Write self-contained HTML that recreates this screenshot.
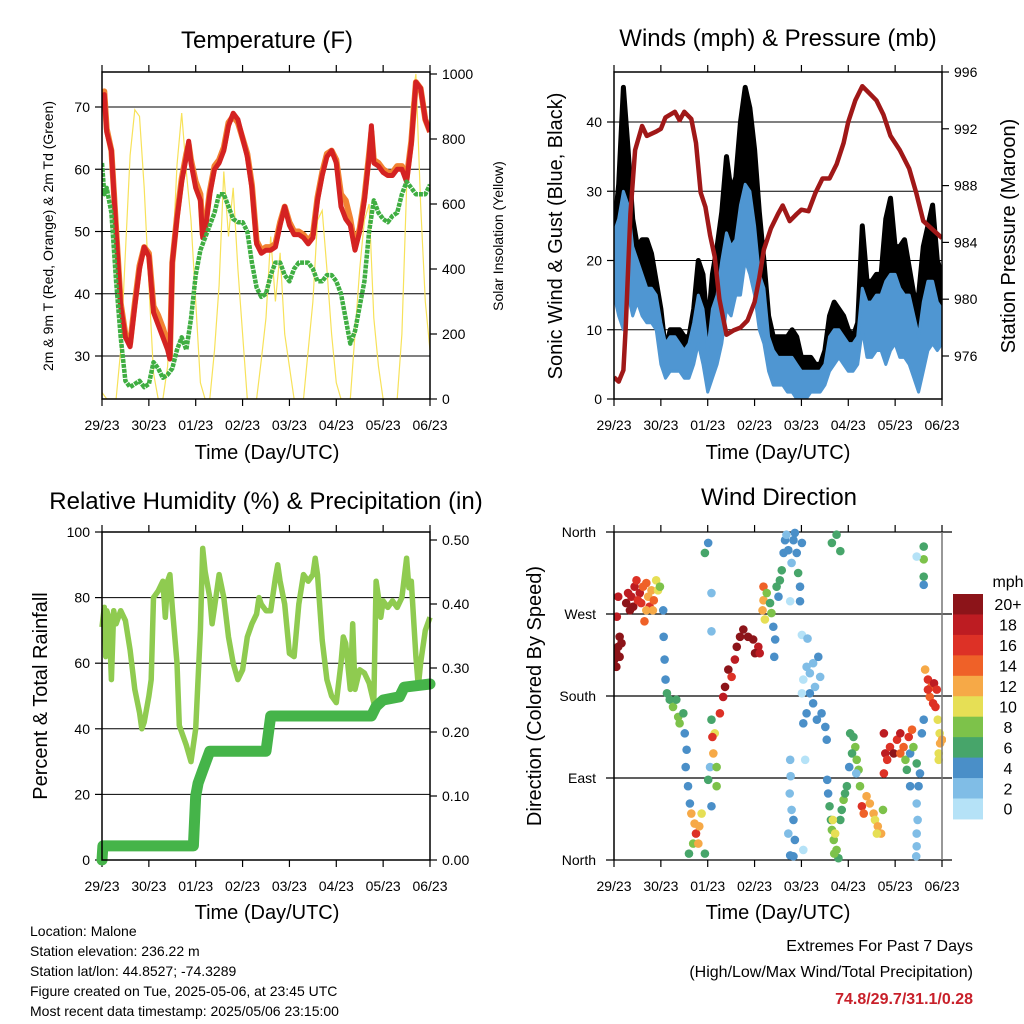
<!DOCTYPE html>
<html><head><meta charset="utf-8"><style>
html,body{margin:0;padding:0;background:#fff}
svg{display:block;font-family:"Liberation Sans",Arial,sans-serif}
</style></head><body>
<svg id="c" width="1024" height="1024" viewBox="0 0 1024 1024" xmlns="http://www.w3.org/2000/svg"></svg>
<script>
// ---------- DATA ----------
const dayTicks = ["29/23","30/23","01/23","02/23","03/23","04/23","05/23","06/23"];
const step10 = [0,0.1,0.2,0.3,0.4,0.5,0.6,0.7,0.8,0.9,1.0,1.1,1.2,1.3,1.4,1.5,1.6,1.7,1.8,1.9,2.0,2.1,2.2,2.3,2.4,2.5,2.6,2.7,2.8,2.9,3.0,3.1,3.2,3.3,3.4,3.5,3.6,3.7,3.8,3.9,4.0,4.1,4.2,4.3,4.4,4.5,4.6,4.7,4.8,4.9,5.0,5.1,5.2,5.3,5.4,5.5,5.6,5.7,5.8,5.9,6.0,6.1,6.2,6.3,6.4,6.5,6.6,6.7,6.8,6.9,7.0];
const tempDays = [0,0.05,0.1,0.2,0.3,0.4,0.5,0.6,0.7,0.8,0.9,1.0,1.1,1.2,1.3,1.4,1.45,1.5,1.6,1.7,1.8,1.85,1.9,2.0,2.1,2.15,2.2,2.3,2.4,2.5,2.6,2.7,2.8,2.9,3.0,3.1,3.2,3.3,3.4,3.5,3.6,3.7,3.8,3.9,4.0,4.1,4.2,4.3,4.4,4.5,4.6,4.7,4.8,4.9,5.0,5.1,5.2,5.3,5.4,5.5,5.6,5.7,5.75,5.8,5.9,6.0,6.1,6.2,6.3,6.4,6.5,6.6,6.7,6.8,6.9,7.0];
const temp2m = [71,72,66,63,50,38,33,31.5,38,44,47.5,46,37,35,33,31,29.5,45,52,58,62,64.5,61,57,55,49,50,56,60,61,63,67,69,68,65,62,57,48,46.5,47,47,47.5,51,54,51,49.5,49.5,49,48,49,55,59,62,63,61,54,52,51,47,50,55,62,67,61,60.5,59.5,59,59,60,60,58,64,74,73,68,66];
const temp9m = [71,72.5,66.5,63,50.5,38.5,33.5,32,38.5,44.5,47.5,46.5,38,36.5,34.5,32,30,45,52.5,58.5,62.5,64,61.5,58,56,49.5,50.5,56.5,60.5,61.5,63.5,67.5,68.5,67.5,65,62.5,57.5,48.5,47,47.5,47.5,48,51.5,54,51.5,50,50,49.5,48.5,49.5,55.5,59.5,62.5,63,61.5,56,55,52,47.5,50.5,55.5,62.5,66,61.5,61,60,59.5,59.5,60.5,60.5,58.5,64.5,74,73,68,66];
const dewDays = [0,0.05,0.1,0.2,0.3,0.4,0.5,0.6,0.7,0.8,0.9,1.0,1.1,1.2,1.3,1.4,1.5,1.6,1.7,1.8,1.9,2.0,2.1,2.2,2.3,2.4,2.5,2.6,2.7,2.8,2.9,3.0,3.1,3.2,3.3,3.4,3.5,3.6,3.7,3.8,3.9,4.0,4.1,4.2,4.3,4.4,4.5,4.6,4.7,4.8,4.9,5.0,5.1,5.2,5.3,5.4,5.5,5.6,5.7,5.8,5.9,6.0,6.1,6.2,6.3,6.4,6.5,6.6,6.7,6.8,6.9,7.0];
const dew2m = [61,56,57,53,42,33,26,25,25.5,26,25,25.5,29,28,26.5,27,28,31,33,31,36,43,47,49,51,53,56,56,54,52,51.5,51.5,50,45,41,39.5,40,43,45,45,43,42,44,45,45,45,44,42,42,43,43,42,40,36,32,34,38,42,50,55,53,52,51.5,52.5,53,56,58,57,56,56,56,57.5];
const solar = [20,0,0,0,150,450,750,890,870,650,350,80,0,0,100,420,720,880,700,550,300,50,0,0,150,350,700,500,650,400,200,0,0,0,120,250,500,300,450,200,100,0,0,0,150,300,550,580,400,200,50,0,0,0,200,400,550,600,250,100,0,0,0,0,200,650,900,1000,600,300,150];
const pressDays = [0,0.1,0.2,0.25,0.35,0.45,0.6,0.7,0.9,1.0,1.1,1.3,1.4,1.5,1.65,1.75,1.85,1.95,2.05,2.15,2.25,2.4,2.55,2.7,2.85,3.0,3.1,3.2,3.35,3.5,3.6,3.75,3.9,4.0,4.15,4.3,4.45,4.6,4.75,4.9,5.0,5.15,5.3,5.45,5.6,5.75,5.9,6.1,6.3,6.45,6.6,7.0];
const pressure = [974.5,974.2,975,978,986,990.5,992.2,991.5,991.8,992,992.8,993.2,992.6,993.2,992.7,991,987.5,986.5,984.5,983,980,977.5,977.8,978,978.5,979.8,981.5,983.5,985,986,986.6,985.5,986,986.3,986.2,987.5,988.5,988.5,989.5,991,992.5,994,995,994.5,994,993,991.5,990.5,989.2,987.5,985.5,984.3];
const windLow = [15,12,10,15,12,14,12,11,11,10,5,3,4,4,4,3,3,5,8,5,1,3,5,8,13,12,15,15,20,18,15,10,8,4,2,2,2,1,1,0,0,0,1,1,1,2,4,5,6,5,4,4,5,10,6,6,7,7,5,7,8,6,6,5,3,1,4,7,8,7,8];
const windHigh = [24,26,30,28,22,20,18,16,16,15,11,8,9,9,8,7,8,11,15,13,7,13,15,20,24,22,23,28,31,30,25,18,16,9,7,6,6,6,6,5,4,4,4,4,4,5,9,10,10,9,8,8,9,16,14,14,15,15,17,18,18,16,15,15,12,9,14,17,17,14,13];
const gust = [24,31,45,36,26,22,23,23,21,17,13,7,10,10,10,9,9,13,20,18,10,18,22,27,35,30,32,40,45,42,36,27,20,12,9,9,9,9,10,9,6,6,6,5,5,7,12,14,13,12,10,9,11,25,17,17,18,18,26,29,22,22,23,19,15,15,22,25,28,20,18];
const rhDays = [0,0.05,0.08,0.1,0.15,0.2,0.25,0.3,0.4,0.5,0.6,0.7,0.8,0.85,0.9,1.0,1.05,1.1,1.2,1.3,1.35,1.4,1.45,1.5,1.6,1.65,1.8,1.9,2.0,2.1,2.15,2.2,2.3,2.35,2.4,2.5,2.6,2.7,2.8,2.9,3.0,3.1,3.2,3.3,3.35,3.4,3.5,3.6,3.7,3.75,3.8,3.9,4.0,4.1,4.2,4.3,4.4,4.5,4.55,4.6,4.7,4.8,4.9,5.0,5.1,5.15,5.2,5.3,5.35,5.4,5.5,5.6,5.7,5.8,5.85,5.9,5.95,6.0,6.1,6.2,6.3,6.4,6.5,6.55,6.6,6.7,6.75,6.8,6.9,7.0];
const rh = [71,77,62,76,74,55,76,72,76,73,64,52,45,40,42,50,55,80,82,85,74,85,87,77,60,41,35,30,40,70,95,88,80,72,77,87,80,68,60,55,58,68,72,75,80,78,76,76,86,90,85,78,63,62,78,87,85,87,92,87,67,55,50,48,60,68,66,52,72,52,58,57,54,48,85,80,74,79,77,79,77,80,92,83,85,62,53,60,70,74];
const precipDays = [0,0.02,1.95,2.0,2.05,2.15,2.3,3.5,3.6,5.75,5.85,6.0,6.35,6.45,7.0];
const precip = [0,0.022,0.022,0.1,0.12,0.14,0.17,0.17,0.225,0.225,0.24,0.25,0.255,0.27,0.275];
const dirDay = [0.01,0.05,0.09,0.12,0.16,0.05,0.12,0.01,0.09,0.06,
0.26,0.34,0.37,0.44,0.48,0.55,0.58,0.62,0.69,0.73,0.76,0.8,0.85,0.9,0.94,0.98,0.65,0.3,0.41,0.51,0.83,0.69,
1.05,1.06,1.08,1.1,1.13,1.19,1.26,1.33,1.37,1.4,1.48,1.51,1.55,1.53,1.58,1.62,1.65,1.72,1.75,1.82,1.87,1.69,1.6,1.8,1.94,2.08,2.01,1.94,2.08,2.08,
2.01,2.05,2.12,2.15,2.08,2.19,2.19,2.1,
2.26,2.33,2.37,2.44,2.51,2.58,2.62,2.69,2.76,2.86,2.97,3.08,3.01,3.11,
3.19,3.19,3.17,3.22,3.26,3.33,3.36,3.4,3.44,3.42,3.47,3.51,
3.58,3.62,3.65,3.68,3.72,3.79,3.83,3.86,3.9,3.93,3.97,4.01,3.76,3.97,3.54,
3.76,3.77,3.75,3.79,3.83,3.72,3.86,3.76,3.83,4.04,4.08,4.01,4.13,
4.04,4.11,4.18,4.25,4.36,4.4,4.18,4.25,4.11,4.04,4.33,4.43,4.51,4.54,4.29,4.01,
4.55,4.57,4.6,4.63,4.65,4.69,4.72,4.75,4.79,4.83,4.86,4.9,4.93,4.97,4.7,4.67,
5.04,5.11,5.15,5.08,5.18,5.22,5.02,5.17,5.25,
5.29,5.33,5.39,5.46,5.54,5.57,5.63,5.7,5.74,5.61,
5.76,5.79,5.83,5.89,5.97,6.04,6.11,6.18,6.29,6.36,5.76,6.11,
6.22,6.25,6.32,6.39,6.46,6.53,6.57,6.32,6.5,6.61,
6.46,6.48,6.46,6.46,6.45,
6.64,6.7,6.77,6.83,6.74,6.81,6.86,6.89,6.7,
6.91,6.95,6.96,6.93,7.0,6.93,
6.61,6.61,6.61,6.61,6.46,4.65,4.75,4.83];
const dirDeg = [220,227,234,245,238,212,223,225,289,267,
282,274,289,300,307,293,282,300,304,289,278,296,285,307,296,300,262,293,278,285,274,274,
274,245,220,198,183,176,168,176,157,150,161,139,121,102,81,62,51,40,29,37,51,18,7,18,7,59,348,337,293,251,
88,102,117,139,154,102,81,135,
161,179,190,209,201,220,234,245,253,245,242,234,227,227,
300,285,274,264,293,282,271,256,242,223,300,289,
318,337,351,357,340,326,351,359,337,315,300,348,284,284,307,
110,92,73,55,44,29,22,5,4,11,110,247,243,
198,212,205,216,223,201,183,172,161,150,154,161,146,132,190,183,
88,73,59,44,33,22,29,11,2,44,55,66,73,81,7,44,
139,135,124,117,110,99,102,95,81,
59,51,70,62,51,44,37,29,55,29,
139,117,110,124,117,132,139,124,135,143,95,117,
110,99,117,124,106,95,139,81,81,154,
62,44,29,15,4,
209,198,190,194,179,172,168,187,187,
154,139,128,117,132,110,
344,330,311,302,333,348,357,339];
const dirSpd = [20,20,20,20,20,20,20,20,18,18,
20,20,18,18,16,18,16,14,14,12,16,12,14,10,10,8,14,18,20,16,12,12,
4,4,4,4,6,6,8,6,8,8,6,4,4,4,4,4,12,12,16,12,10,8,6,12,6,4,4,6,2,2,
6,2,12,10,6,8,8,16,
16,18,20,20,16,18,20,20,20,20,20,18,20,18,
14,12,12,10,8,6,8,4,4,4,6,4,
6,4,4,2,4,2,4,4,4,6,4,4,1,4,6,
2,2,2,2,4,2,4,4,4,1,1,1,2,
1,2,2,2,4,2,4,4,4,4,4,4,4,4,2,1,
4,4,6,6,8,8,10,8,6,6,6,8,6,6,8,10,
6,6,8,6,8,8,4,2,8,
16,14,12,12,12,10,12,12,8,10,
18,18,16,16,20,16,18,14,16,14,16,14,
8,6,4,8,6,4,4,4,4,4,
2,2,2,2,2,
12,16,14,18,14,16,16,16,16,
10,10,12,10,12,10,
6,8,6,4,1,6,6,6];
const cbLabels = ["20+","18","16","14","12","10","8","6","4","2","0"];
const cbColors = ["#8c1419","#bd1c22","#dd3126","#ef6128","#f6a947","#e6df55","#7dc24a","#47a56a","#4a8fc8","#80bde6","#b5e2f7"];

// ---------- HELPERS ----------
const NS="http://www.w3.org/2000/svg";
const svg=document.getElementById('c');
function mk(tag,attrs,parent){const e=document.createElementNS(NS,tag);for(const k in attrs)e.setAttribute(k,attrs[k]);(parent||svg).appendChild(e);return e;}
function txt(s,x,y,size,anchor,parent,extra){const e=mk('text',Object.assign({x:x,y:y,'font-size':size,'text-anchor':anchor||'middle',fill:'#000'},extra||{}),parent);e.textContent=s;return e;}
function lin(d0,d1,p0,p1){return v=>p0+(v-d0)/(d1-d0)*(p1-p0);}
function pathOf(xs,ys,fx,fy){return xs.map((t,i)=>(i?'L':'M')+fx(t).toFixed(1)+','+fy(ys[i]).toFixed(1)).join('');}
function bandOf(xs,lo,hi,fx,fy){let d=xs.map((t,i)=>(i?'L':'M')+fx(t).toFixed(1)+','+fy(hi[i]).toFixed(1)).join('');for(let i=xs.length-1;i>=0;i--)d+='L'+fx(xs[i]).toFixed(1)+','+fy(lo[i]).toFixed(1);return d+'Z';}

function frame(g,L,R,T,B,name){
  const r=mk('rect',{x:L,y:T,width:R-L,height:B-T,fill:'none',stroke:'#000','stroke-width':1.5},g);
  
}
function xAxis(g,L,R,T,B,ty){
  const fx=lin(0,7,L,R);
  dayTicks.forEach((lab,i)=>{
    const x=fx(i);
    mk('line',{x1:x,y1:B,x2:x,y2:B+7,stroke:'#000','stroke-width':1.2},g);
    mk('line',{x1:x,y1:T,x2:x,y2:T-7,stroke:'#000','stroke-width':1.2},g);
    const t=txt(lab,x,ty,14,'middle',g);
    
  });
  return fx;
}
function yTicksLeft(g,L,R,vals,fy,labels,grid){
  vals.forEach((v,i)=>{
    const y=fy(v);
    mk('line',{x1:L-7,y1:y,x2:L,y2:y,stroke:'#000','stroke-width':1.2},g);
    if(grid&&grid(v))mk('line',{x1:L,y1:y,x2:R,y2:y,stroke:'#000','stroke-width':1},g);
    const t=txt(labels[i],L-12,y+5,14,'end',g);
    
  });
}
function yTicksRight(g,R,vals,fy,labels){
  vals.forEach((v,i)=>{
    const y=fy(v);
    mk('line',{x1:R,y1:y,x2:R+7,y2:y,stroke:'#000','stroke-width':1.2},g);
    const t=txt(labels[i],R+12,y+5,14,'start',g);
    
  });
}
function rotText(s,x,y,size,g,name){const t=txt(s,x,y,size,'middle',g,{transform:'rotate(-90 '+x+' '+y+')'});return t;}

// ---------- PANEL 1: TEMPERATURE ----------
(function(){
  const g=mk('g',{});
  const L=102,R=430,T=72,B=399;
  const fy=lin(30,70,356,107), fs=lin(0,1000,399,74);
  const fx=xAxis(g,L,R,T,B,430);
  yTicksLeft(g,L,R,[30,40,50,60,70],fy,["30","40","50","60","70"],v=>true);
  yTicksRight(g,R,[0,200,400,600,800,1000],fs,["0","200","400","600","800","1000"]);
  const cp=mk('clipPath',{id:'cp1'},g);mk('rect',{x:L,y:T,width:R-L,height:B-T},cp);
  const pg=mk('g',{'clip-path':'url(#cp1)'},g);
  const s=mk('path',{d:pathOf(step10,solar,fx,fs),fill:'none',stroke:'#f7e25a','stroke-width':1.2},pg);
  
  const o=mk('path',{d:pathOf(tempDays,temp9m,fx,fy),fill:'none',stroke:'#f28232','stroke-width':6,'stroke-linejoin':'round'},pg);
  
  const r=mk('path',{d:pathOf(tempDays,temp2m,fx,fy),fill:'none',stroke:'#d42222','stroke-width':5,'stroke-linejoin':'round'},pg);
  
  const d=mk('path',{d:pathOf(dewDays,dew2m,fx,fy),fill:'none',stroke:'#3fae42','stroke-width':4.5,'stroke-dasharray':'4 1','stroke-linejoin':'round'},pg);
  
  frame(g,L,R,T,B,'temperature');
  const t=txt("Temperature (F)",267,48,24,'middle',g);
  const xt=txt("Time (Day/UTC)",267,459,20,'middle',g);
  rotText("2m & 9m T (Red, Orange) & 2m Td (Green)",53,236,14,g,'y-axis-title');
  rotText("Solar Insolation (Yellow)",503,236,14,g,'y2-axis-title');
})();

// ---------- PANEL 2: WINDS ----------
(function(){
  const g=mk('g',{});
  const L=614,R=942,T=72,B=399;
  const fy=lin(0,40,399,122), fp=lin(976,996,356,72);
  const fx=xAxis(g,L,R,T,B,430);
  yTicksLeft(g,L,R,[0,10,20,30,40],fy,["0","10","20","30","40"],v=>v>0);
  yTicksRight(g,R,[976,980,984,988,992,996],fp,["976","980","984","988","992","996"]);
  const cp=mk('clipPath',{id:'cp2'},g);mk('rect',{x:L,y:T,width:R-L,height:B-T},cp);
  const pg=mk('g',{'clip-path':'url(#cp2)'},g);
  const gb=mk('path',{d:bandOf(step10,windHigh,gust,fx,fy),fill:'#000',stroke:'#000','stroke-width':5,'stroke-linejoin':'round'},pg);
  
  const bb=mk('path',{d:bandOf(step10,windLow,windHigh,fx,fy),fill:'#4f96d2',stroke:'#4f96d2','stroke-width':3,'stroke-linejoin':'round'},pg);
  
  const p=mk('path',{d:pathOf(pressDays,pressure,fx,fp),fill:'none',stroke:'#a01818','stroke-width':4.5,'stroke-linejoin':'round'},pg);
  
  frame(g,L,R,T,B,'winds');
  const t=txt("Winds (mph) & Pressure (mb)",778,46,24,'middle',g);
  const xt=txt("Time (Day/UTC)",778,459,20,'middle',g);
  rotText("Sonic Wind & Gust (Blue, Black)",562,236,20,g,'y-axis-title');
  rotText("Station Pressure (Maroon)",1015,236,20,g,'y2-axis-title');
})();

// ---------- PANEL 3: RH & PRECIP ----------
(function(){
  const g=mk('g',{});
  const L=102,R=430,T=532,B=860;
  const fy=lin(0,100,860,532), fr=lin(0,0.5,860,540);
  const fx=xAxis(g,L,R,T,B,891);
  yTicksLeft(g,L,R,[0,20,40,60,80,100],fy,["0","20","40","60","80","100"],v=>v>0&&v<100);
  yTicksRight(g,R,[0,0.1,0.2,0.3,0.4,0.5],fr,["0.00","0.10","0.20","0.30","0.40","0.50"]);
  const cp=mk('clipPath',{id:'cp3'},g);mk('rect',{x:L-8,y:T,width:R-L+16,height:B-T+8},cp);
  const pg=mk('g',{'clip-path':'url(#cp3)'},g);
  const h=mk('path',{d:pathOf(rhDays,rh,fx,fy),fill:'none',stroke:'#8fcb50','stroke-width':5.5,'stroke-linejoin':'round'},pg);
  
  const pr=mk('path',{d:pathOf(precipDays,precip,fx,fr),fill:'none',stroke:'#45b449','stroke-width':11,'stroke-linejoin':'round','stroke-linecap':'round'},pg);
  
  frame(g,L,R,T,B,'humidity');
  const t=txt("Relative Humidity (%) & Precipitation (in)",266,509,24,'middle',g);
  const xt=txt("Time (Day/UTC)",267,919,20,'middle',g);
  rotText("Percent & Total Rainfall",47,696,20,g,'y-axis-title');
})();

// ---------- PANEL 4: WIND DIRECTION ----------
(function(){
  const g=mk('g',{});
  const L=614,R=942,T=532,B=860;
  const fy=lin(0,360,860,532);
  const fx=xAxis(g,L,R,T,B,891);
  const dirLabs=["North","East","South","West","North"];
  [0,90,180,270,360].forEach((v,i)=>{
    const y=fy(v);
    mk('line',{x1:L-8,y1:y,x2:R+10,y2:y,stroke:'#000','stroke-width':1.2},g);
    const t=txt(dirLabs[i],596,y+5,14,'end',g);
  });
  const cp=mk('clipPath',{id:'cp4'},g);mk('rect',{x:L,y:T-4,width:R-L+4,height:B-T+8},cp);
  const pg=mk('g',{'clip-path':'url(#cp4)'},g);
  dirDay.forEach((d,i)=>{
    const idx=Math.max(0,Math.min(10,Math.round((20-Math.min(dirSpd[i],20))/2)));
    const c=mk('circle',{cx:fx(d),cy:fy(dirDeg[i]),r:4.3,fill:cbColors[idx]},pg);
    
    
  });
  mk('line',{x1:R,y1:T,x2:R,y2:B,stroke:'#777','stroke-width':1.5},g);
  mk('line',{x1:L,y1:T,x2:L,y2:B,stroke:'#000','stroke-width':1.5},g);
  const cb=mk('g',{},g);
  const cbT=594,cbH=20.45;
  cbLabels.forEach((lab,i)=>{
    mk('rect',{x:953,y:cbT+i*cbH,width:30,height:cbH+0.5,fill:cbColors[i]},cb);
    const t=txt(lab,1008,cbT+i*cbH+cbH/2+6,16,'middle',cb);
    
  });
  const u=txt("mph",1008,587,16,'middle',cb);
  const t=txt("Wind Direction",779,505,24,'middle',g);
  const xt=txt("Time (Day/UTC)",778,919,20,'middle',g);
  rotText("Direction (Colored By Speed)",541,696,20,g,'y-axis-title');
})();

// ---------- FOOTER ----------
(function(){
  const g=mk('g',{});
  ["Location: Malone","Station elevation: 236.22 m","Station lat/lon: 44.8527; -74.3289","Figure created on Tue, 2025-05-06, at 23:45 UTC","Most recent data timestamp: 2025/05/06 23:15:00"].forEach((s,i)=>{
    const t=txt(s,30,936+i*20,14,'start',g);
  });
  const e=mk('g',{});
  const a=txt("Extremes For Past 7 Days",973,951,16,'end',e);
  const b=txt("(High/Low/Max Wind/Total Precipitation)",973,977,16,'end',e);
  const c=txt("74.8/29.7/31.1/0.28",973,1004,16,'end',e,{fill:'#c8202a','font-weight':'bold'});
})();
</script>
</body></html>
